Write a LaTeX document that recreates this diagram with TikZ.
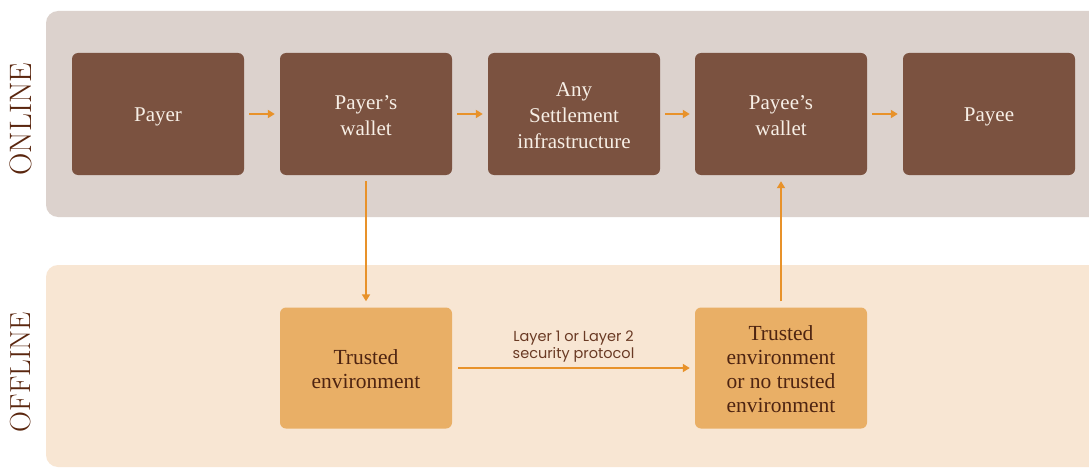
\documentclass[tikz,border=0pt]{standalone}
\usepackage{fontspec}
\newfontfamily\labelfont{Poppins}
\newfontfamily\boxfont{Liberation Serif}
\usetikzlibrary{arrows.meta}
\definecolor{onlinebg}{HTML}{DCD2CD}
\definecolor{offlinebg}{HTML}{F8E6D3}
\definecolor{darkbox}{HTML}{7B5240}
\definecolor{lightbox}{HTML}{E9AF66}
\definecolor{arrowcol}{HTML}{E8922A}
\definecolor{cream}{HTML}{F7EFE6}
\definecolor{deepbrown}{HTML}{4E2411}
\definecolor{sidebrown}{HTML}{5A260E}
\definecolor{labelbrown}{HTML}{6A3A24}
\tikzset{
  panel/.style={rounded corners=12pt, draw=none},
  boxtext/.style={inner sep=0pt, align=center, anchor=center},
  onlinebox/.style={fill=darkbox, rounded corners=6pt, minimum width=172pt, minimum height=122pt,
    inner sep=0pt},
  onlinetext/.style={boxtext, text=cream, font=\boxfont\fontsize{21}{26}\selectfont},
  offlinebox/.style={fill=lightbox, rounded corners=6pt, minimum width=172pt, minimum height=121pt,
    inner sep=0pt},
  offlinetext/.style={boxtext, text=deepbrown, font=\boxfont\fontsize{21.5}{24}\selectfont},
  flow/.style={draw=arrowcol, line width=2pt, -{Triangle[length=7pt,width=8pt]}},
  sidelabel/.style={rotate=90, text=sidebrown, font=\fontsize{31}{31}\selectfont},
}
\begin{document}
\begin{tikzpicture}[x=1pt,y=-1pt]
\useasboundingbox (0,0) rectangle (1089,468);
\clip (0,0) rectangle (1089,468);
\fill[white] (0,0) rectangle (1089,468);

% the two bands
\fill[onlinebg, panel] (46,11) rectangle (1120,217);
\fill[offlinebg, panel] (46,265) rectangle (1120,467);

\node[sidelabel] (onl) at (21,119) {ONLINE};
\node[sidelabel, font=\fontsize{29}{29}\selectfont] (offl) at (21,372) {OFFLINE};

% online chain: boxes, with their texts set a little below centre
\node[onlinebox] (payer) at (158,114) {};
\node[onlinebox] (pw) at (366,114) {};
\node[onlinebox] (settle) at (574,114) {};
\node[onlinebox] (yw) at (781,114) {};
\node[onlinebox] (payee) at (989,114) {};
\node[onlinetext] (payer-t) at ([yshift=-3pt]payer.center) {Payer};
\node[onlinetext] (pw-t) at ([yshift=-2pt]pw.center) {Payer’s\\wallet};
\node[onlinetext] (settle-t) at ([yshift=-2pt]settle.center) {Any\\Settlement\\infrastructure};
\node[onlinetext] (yw-t) at ([yshift=-2pt]yw.center) {Payee’s\\wallet};
\node[onlinetext] (payee-t) at ([yshift=-3pt]payee.center) {Payee};

% offline pair
\node[offlinebox] (te) at (366,368) {};
\node[offlinebox] (te2) at (781,368) {};
\node[offlinetext] (te-t) at ([yshift=-1pt]te.center) {Trusted\\environment};
\node[offlinetext] (te2-t) at ([yshift=-1pt]te2.center) {Trusted\\environment\\or no trusted\\environment};

% connectors
\draw[flow, shorten <=5pt, shorten >=5pt] (payer) -- (pw);
\draw[flow, shorten <=5pt, shorten >=5pt] (pw) -- (settle);
\draw[flow, shorten <=5pt, shorten >=5pt] (settle) -- (yw);
\draw[flow, shorten <=5pt, shorten >=5pt] (yw) -- (payee);
\draw[flow, shorten <=6pt, shorten >=6pt] (pw) -- (te);
\draw[flow, shorten <=6pt, shorten >=6pt] (te2) -- (yw);
\draw[flow, shorten <=6pt, shorten >=5pt] (te) -- (te2)
  node[midway, above=1pt, align=center, text=labelbrown, font=\labelfont\fontsize{14.5}{17}\selectfont]
  (proto) {Layer 1 or Layer 2\\security protocol};
\end{tikzpicture}
\end{document}
